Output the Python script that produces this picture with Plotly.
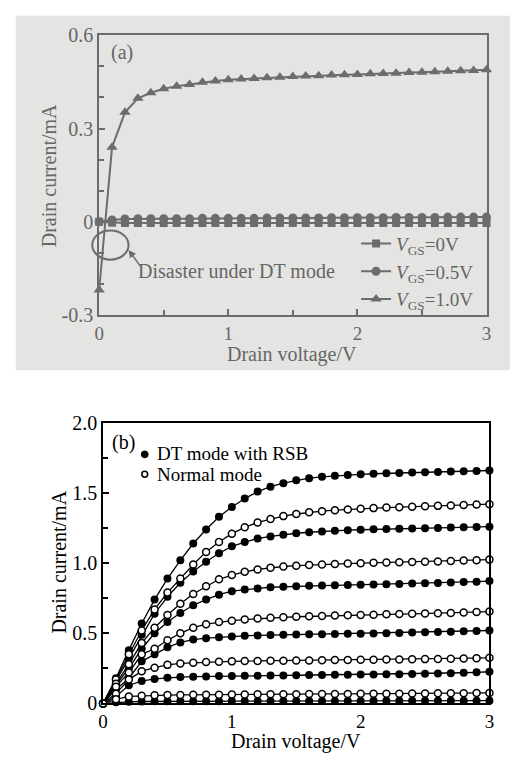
import plotly.graph_objects as go

# ---------------- data ----------------
V = [0.0, 0.1, 0.2, 0.3, 0.4, 0.5, 0.6, 0.7, 0.8, 0.9, 1.0,
     1.1, 1.2, 1.3, 1.4, 1.5, 1.6, 1.7, 1.8, 1.9, 2.0,
     2.1, 2.2, 2.3, 2.4, 2.5, 2.6, 2.7, 2.8, 2.9, 3.0]

# panel (a)
a_names = ["<i>V</i><sub>GS</sub>=0V", "<i>V</i><sub>GS</sub>=0.5V", "<i>V</i><sub>GS</sub>=1.0V"]
a_vgs0 = [0.0, -0.003, -0.004, -0.004, -0.004, -0.004, -0.004, -0.004, -0.004, -0.004, -0.004,
          -0.004, -0.004, -0.004, -0.004, -0.004, -0.004, -0.004, -0.004, -0.004, -0.004,
          -0.004, -0.004, -0.004, -0.004, -0.004, -0.004, -0.004, -0.004, -0.004, -0.004]
a_vgs05 = [0.0, 0.006, 0.009, 0.010, 0.010, 0.010, 0.010, 0.010, 0.011, 0.011, 0.011,
           0.011, 0.011, 0.012, 0.012, 0.012, 0.012, 0.012, 0.013, 0.013, 0.013,
           0.013, 0.013, 0.014, 0.014, 0.014, 0.014, 0.015, 0.015, 0.015, 0.015]
a_vgs10 = [-0.22, 0.24, 0.352, 0.397, 0.415, 0.428, 0.436, 0.442, 0.449, 0.453, 0.457,
           0.459, 0.461, 0.463, 0.465, 0.467, 0.469, 0.470, 0.472, 0.473, 0.474,
           0.476, 0.477, 0.478, 0.480, 0.481, 0.483, 0.484, 0.486, 0.487, 0.489]

# panel (b) DT mode with RSB (filled) and normal mode (open)
b_legend = ["DT mode with RSB", "Normal mode"]
b_dt = [
    [0, 0.18, 0.38, 0.57, 0.74, 0.89, 1.02, 1.14, 1.24, 1.33, 1.40, 1.46, 1.51, 1.545, 1.57, 1.59,
     1.605, 1.615, 1.622, 1.628, 1.633, 1.637, 1.640, 1.643, 1.646, 1.648, 1.650, 1.653, 1.655, 1.657, 1.66],
    [0, 0.16, 0.32, 0.49, 0.64, 0.76, 0.86, 0.94, 1.01, 1.07, 1.12, 1.15, 1.175, 1.19, 1.203, 1.213,
     1.22, 1.226, 1.231, 1.235, 1.238, 1.241, 1.243, 1.245, 1.247, 1.249, 1.251, 1.253, 1.255, 1.257, 1.26],
    [0, 0.13, 0.25, 0.39, 0.50, 0.58, 0.645, 0.70, 0.74, 0.775, 0.80, 0.812, 0.82, 0.828, 0.832, 0.835,
     0.838, 0.84, 0.842, 0.844, 0.846, 0.848, 0.85, 0.852, 0.854, 0.856, 0.859, 0.862, 0.865, 0.868, 0.872],
    [0, 0.10, 0.18, 0.30, 0.35, 0.40, 0.435, 0.455, 0.465, 0.472, 0.478, 0.482, 0.485, 0.487, 0.489, 0.491,
     0.493, 0.494, 0.495, 0.496, 0.497, 0.499, 0.501, 0.503, 0.505, 0.507, 0.509, 0.511, 0.514, 0.517, 0.52],
    [0, 0.05, 0.13, 0.16, 0.175, 0.183, 0.188, 0.191, 0.193, 0.195, 0.196, 0.197, 0.198, 0.199, 0.2, 0.201,
     0.202, 0.203, 0.204, 0.205, 0.206, 0.207, 0.208, 0.209, 0.21, 0.212, 0.214, 0.216, 0.219, 0.222, 0.226],
    [0, 0.008, 0.012, 0.014, 0.015, 0.015, 0.016, 0.016, 0.016, 0.016, 0.017, 0.017, 0.017, 0.017, 0.017, 0.018,
     0.018, 0.018, 0.018, 0.018, 0.018, 0.019, 0.019, 0.019, 0.019, 0.019, 0.02, 0.02, 0.02, 0.02, 0.02],
]
b_normal = [
    [0, 0.17, 0.35, 0.52, 0.67, 0.79, 0.89, 0.99, 1.08, 1.15, 1.21, 1.255, 1.29, 1.315, 1.335, 1.35,
     1.362, 1.37, 1.377, 1.383, 1.388, 1.392, 1.396, 1.399, 1.402, 1.405, 1.408, 1.411, 1.414, 1.417, 1.42],
    [0, 0.14, 0.28, 0.43, 0.54, 0.63, 0.71, 0.78, 0.835, 0.885, 0.915, 0.938, 0.955, 0.967, 0.976, 0.982,
     0.987, 0.991, 0.994, 0.997, 1.0, 1.002, 1.004, 1.006, 1.008, 1.01, 1.012, 1.015, 1.018, 1.021, 1.025],
    [0, 0.12, 0.22, 0.35, 0.39, 0.45, 0.50, 0.54, 0.565, 0.58, 0.59, 0.598, 0.605, 0.61, 0.614, 0.618,
     0.621, 0.624, 0.627, 0.629, 0.631, 0.633, 0.635, 0.637, 0.639, 0.641, 0.643, 0.645, 0.648, 0.651, 0.655],
    [0, 0.07, 0.17, 0.23, 0.255, 0.275, 0.285, 0.29, 0.295, 0.298, 0.30, 0.302, 0.303, 0.304, 0.305, 0.306,
     0.307, 0.308, 0.309, 0.31, 0.311, 0.312, 0.313, 0.314, 0.315, 0.316, 0.317, 0.318, 0.32, 0.322, 0.325],
    [0, 0.03, 0.05, 0.055, 0.058, 0.06, 0.061, 0.062, 0.063, 0.063, 0.064, 0.064, 0.065, 0.065, 0.066, 0.066,
     0.067, 0.067, 0.068, 0.068, 0.069, 0.069, 0.07, 0.07, 0.071, 0.071, 0.072, 0.072, 0.073, 0.074, 0.075],
]

a_ytickvals = [-0.3, 0, 0.3, 0.6]
a_yticktext = ["-0.3", "0", "0.3", "0.6"]
b_ytickvals = [0, 0.5, 1.0, 1.5, 2.0]
b_yticktext = ["0", "0.5", "1.0", "1.5", "2.0"]
xtickvals = [0, 1, 2, 3]
xticktext = ["0", "1", "2", "3"]

# ---------------- style ----------------
W, H = 517, 764
FONT = "Liberation Serif, Times New Roman, serif"
GREY = "#6c6c6c"
GREYTXT = "#666666"
BG = "#e4e4e2"


def px(x):
    return x / W


def py(y):
    return 1 - y / H


fig = go.Figure()

# panel (a) traces
a_syms = ["square", "circle", "triangle-up"]
a_sizes = [8, 9, 10]
for name, ys, sym, sz in zip(a_names, [a_vgs0, a_vgs05, a_vgs10], a_syms, a_sizes):
    fig.add_trace(go.Scatter(
        x=V, y=ys, name=name, mode="lines+markers",
        line=dict(color=GREY, width=2),
        marker=dict(symbol=sym, size=sz, color=GREY),
        xaxis="x", yaxis="y", legend="legend", cliponaxis=False,
    ))

# panel (b) traces
for i, ys in enumerate(b_dt):
    fig.add_trace(go.Scatter(
        x=V, y=ys, mode="lines+markers", showlegend=False,
        name=b_legend[0],
        line=dict(color="black", width=1.3),
        marker=dict(symbol="circle", size=8, color="black"),
        xaxis="x2", yaxis="y2", cliponaxis=False,
    ))
for i, ys in enumerate(b_normal):
    fig.add_trace(go.Scatter(
        x=V, y=ys, mode="lines+markers", showlegend=False,
        name=b_legend[1],
        line=dict(color="black", width=1.3),
        marker=dict(symbol="circle", size=7, color="white", line=dict(color="black", width=1.5)),
        xaxis="x2", yaxis="y2", cliponaxis=False,
    ))

fig.update_layout(
    width=W, height=H, autosize=False,
    margin=dict(l=0, r=0, t=0, b=0, pad=0),
    paper_bgcolor="white", plot_bgcolor="rgba(0,0,0,0)",
    font=dict(family=FONT, size=20, color="black"),
    xaxis=dict(domain=[px(96), px(491)], anchor="y", range=[0, 3],
               showgrid=False, zeroline=False, mirror=True, showline=True,
               linecolor=GREY, linewidth=2, ticks="inside", ticklen=6, tickwidth=2, tickcolor=GREY,
               tickmode="array", tickvals=xtickvals, ticktext=xticktext,
               minor=dict(tickmode="linear", tick0=0, dtick=0.5, ticks="inside", ticklen=5, tickwidth=2, tickcolor=GREY),
               tickfont=dict(family=FONT, size=19, color=GREYTXT)),
    yaxis=dict(domain=[py(313), py(25)], anchor="x", range=[-0.3, 0.6],
               showgrid=False, zeroline=False, mirror=True, showline=True,
               linecolor=GREY, linewidth=2, ticks="inside", ticklen=6, tickwidth=2, tickcolor=GREY,
               tickmode="array", tickvals=a_ytickvals, ticktext=a_yticktext,
               minor=dict(tickmode="linear", tick0=-0.3, dtick=0.1, ticks="inside", ticklen=5, tickwidth=2, tickcolor=GREY),
               tickfont=dict(family=FONT, size=20, color=GREYTXT)),
    xaxis2=dict(domain=[px(100), px(494)], anchor="y2", range=[0, 3],
                showgrid=False, zeroline=False, mirror=True, showline=True,
                linecolor="black", linewidth=1.5, ticks="inside", ticklen=6, tickwidth=1.5, tickcolor="black",
                tickmode="array", tickvals=xtickvals, ticktext=xticktext,
                minor=dict(tickmode="linear", tick0=0, dtick=0.5, ticks="inside", ticklen=5, tickwidth=1.5, tickcolor="black"),
                tickfont=dict(family=FONT, size=19, color="black")),
    yaxis2=dict(domain=[py(713), py(424)], anchor="x2", range=[0, 2],
                showgrid=False, zeroline=False, mirror=True, showline=True,
                linecolor="black", linewidth=1.5, ticks="inside", ticklen=6, tickwidth=1.5, tickcolor="black",
                tickmode="array", tickvals=b_ytickvals, ticktext=b_yticktext,
                minor=dict(tickmode="linear", tick0=0, dtick=0.25, ticks="inside", ticklen=5, tickwidth=1.5, tickcolor="black"),
                tickfont=dict(family=FONT, size=20, color="black")),
    legend=dict(x=px(358), y=py(220), xanchor="left", yanchor="top",
                bgcolor="rgba(0,0,0,0)", font=dict(family=FONT, size=19, color=GREYTXT),
                tracegroupgap=0, itemwidth=30),
)

# grey scanned background of panel (a)
fig.add_shape(type="rect", xref="paper", yref="paper",
              x0=px(11), x1=px(515), y0=py(370), y1=py(5),
              fillcolor=BG, line=dict(width=0), layer="below")

# ellipse "Disaster under DT mode"
fig.add_shape(type="circle", xref="paper", yref="paper",
              x0=px(89), x1=px(126), y0=py(256), y1=py(226),
              line=dict(color=GREY, width=2), fillcolor="rgba(0,0,0,0)")

# legend markers of panel (b)
fig.add_shape(type="circle", xref="paper", yref="paper",
              x0=px(139), x1=px(146), y0=py(460), y1=py(453),
              fillcolor="black", line=dict(color="black", width=1))
fig.add_shape(type="circle", xref="paper", yref="paper",
              x0=px(139.5), x1=px(145.5), y0=py(480), y1=py(474),
              fillcolor="white", line=dict(color="black", width=1.5))

annos = [
    dict(text="(a)", x=px(119), y=py(43), color=GREYTXT, xanchor="center", size=20),
    dict(text="(b)", x=px(121), y=py(444), color="black", xanchor="center", size=20),
    dict(text=b_legend[0], x=px(153), y=py(456), color="black", xanchor="left", size=19),
    dict(text=b_legend[1], x=px(153), y=py(477.5), color="black", xanchor="left", size=19),
    dict(text="Disaster under DT mode", x=px(236), y=py(268), color=GREYTXT, xanchor="center", size=20),
    dict(text="Drain current/mA", x=px(45), y=py(170), textangle=-90, color=GREYTXT, xanchor="center", size=20),
    dict(text="Drain voltage/V", x=px(293), y=py(354), color=GREYTXT, xanchor="center", size=20),
    dict(text="Drain current/mA", x=px(55), y=py(567), textangle=-90, color="black", xanchor="center", size=20),
    dict(text="Drain voltage/V", x=px(297), y=py(752), color="black", xanchor="center", size=20),
]
for a in annos:
    col = a.pop("color")
    sz = a.pop("size")
    fig.add_annotation(xref="paper", yref="paper", showarrow=False,
                       yanchor="middle",
                       font=dict(family=FONT, size=sz, color=col), **a)

# arrow from the text to the ellipse
fig.add_annotation(xref="paper", yref="paper", x=px(126), y=py(246), text="",
                   showarrow=True, axref="pixel", ayref="pixel", ax=13, ay=18,
                   arrowhead=2, arrowsize=1, arrowwidth=1.5, arrowcolor=GREY)

fig.write_html("out.html",
               config={"displayModeBar": False},
               post_script="document.body.style.margin='0';document.body.style.padding='0';"
                           "document.body.style.overflow='hidden';")
